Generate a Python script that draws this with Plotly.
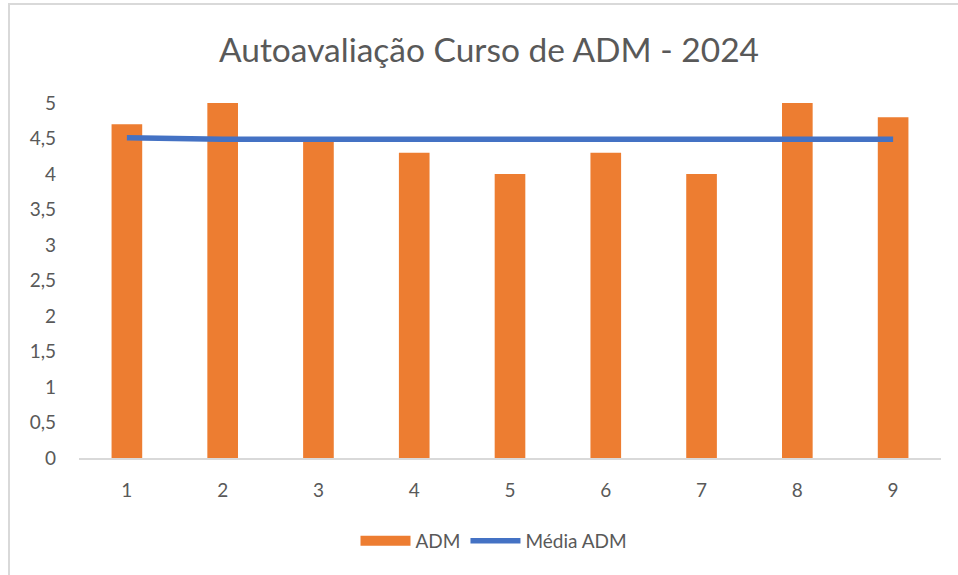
import plotly.graph_objects as go

categories = ["1", "2", "3", "4", "5", "6", "7", "8", "9"]
adm_values = [4.7, 5.0, 4.5, 4.3, 4.0, 4.3, 4.0, 5.0, 4.8]
media_values = [4.51, 4.49, 4.49, 4.49, 4.49, 4.49, 4.49, 4.49, 4.49]
title_text = "Autoavaliação Curso de ADM - 2024"
y_ticks = [0, 0.5, 1, 1.5, 2, 2.5, 3, 3.5, 4, 4.5, 5]

W, H = 958, 575
L, R, T, B = 79, 17, 103, 117
pw, ph = W - L - R, H - T - B

def px_x(px):
    return (px - L) / pw

def px_y(py):
    return (H - B - py) / ph

FONT = "Lato, 'Open Sans', sans-serif"
GREY = "#595959"
ORANGE = "#ED7D31"
BLUE = "#4472C4"

fig = go.Figure()
fig.add_trace(go.Bar(x=categories, y=adm_values, name="ADM", showlegend=False,
                     marker=dict(color=ORANGE, line=dict(width=0))))
# legend swatch for the bars (wide orange block, as in the reference)
fig.add_trace(go.Scatter(x=[None], y=[None], name="ADM", mode="lines",
                         line=dict(color=ORANGE, width=11), hoverinfo="skip"))
fig.add_trace(go.Scatter(x=categories, y=media_values, name="Média ADM",
                         mode="lines", line=dict(color=BLUE, width=5.5)))

fig.update_layout(
    width=W, height=H,
    margin=dict(l=L, r=R, t=T, b=B, pad=0),
    paper_bgcolor="white", plot_bgcolor="white",
    separators=",.",
    bargap=0.68,
    font=dict(family=FONT, color=GREY, size=19),
    title=dict(text=title_text, x=489 / W, xref="container", xanchor="center",
               y=1 - 50 / H, yref="container", yanchor="middle",
               font=dict(family=FONT, size=33.5, color=GREY)),
    xaxis=dict(showgrid=False, showline=True, linecolor="#D9D9D9", linewidth=1.5,
               ticks="", ticklabelstandoff=14, tickfont=dict(size=19, color=GREY)),
    yaxis=dict(range=[0, 5], tickvals=y_ticks, showgrid=False, zeroline=False,
               showline=False, ticks="", ticklabelstandoff=22,
               tickfont=dict(size=19, color=GREY)),
    legend=dict(orientation="h", x=494 / W, xref="container", xanchor="center",
                y=1 - 541 / H, yref="container", yanchor="middle",
                font=dict(size=19, color=GREY), itemwidth=50),
    shapes=[
        dict(type="line", xref="paper", yref="paper", x0=px_x(9), x1=px_x(9),
             y0=px_y(3), y1=px_y(H + 5), line=dict(color="#D9D9D9", width=2)),
        dict(type="line", xref="paper", yref="paper", x0=px_x(8), x1=px_x(W + 5),
             y0=px_y(4), y1=px_y(4), line=dict(color="#D9D9D9", width=2)),
    ],
)

fig.write_html("out.html", config={"displayModeBar": False},
               post_script="document.body.style.margin='0';document.body.style.overflow='hidden';")
